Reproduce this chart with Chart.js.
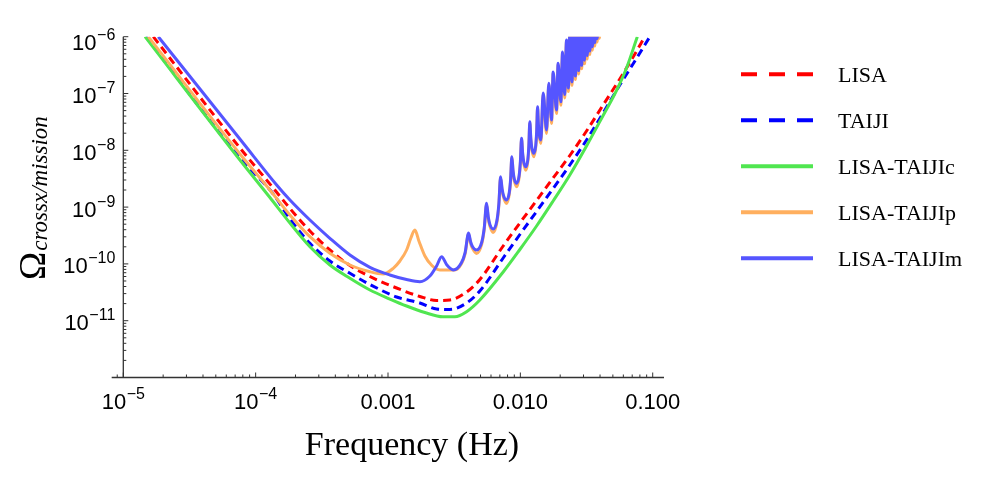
<!DOCTYPE html>
<html>
<head>
<meta charset="utf-8">
<script src="https://cdn.jsdelivr.net/npm/chart.js@4.4.1/dist/chart.umd.min.js"></script>
<style>
  html, body { margin: 0; padding: 0; background: #ffffff; }
  #wrap { width: 986px; height: 490px; }
</style>
</head>
<body>
<div id="wrap"><canvas id="chart" width="986" height="490"></canvas></div>
<script>
// ---------------- data (frequency in Hz, Omega values) ----------------
const lisaF = [1.685e-5, 7.61e-5, 1.358e-4, 1.816e-4, 2.571e-4, 3.640e-4, 5.156e-4, 7.30e-4, 1.161e-3, 1.741e-3, 2.329e-3, 2.935e-3, 3.924e-3, 4.943e-3, 7.416e-3, 9.913e-3, 1.326e-2, 1.769e-2, 2.365e-2, 3.162e-2, 4.220e-2, 5.641e-2, 7.11e-2, 8.72e-2];
const lisaV = [1.0e-6, 1.098e-8, 2.169e-9, 9.45e-10, 3.794e-10, 1.757e-10, 9.37e-11, 6.0e-11, 3.764e-11, 2.668e-11, 2.267e-11, 2.314e-11, 3.20e-11, 5.31e-11, 2.066e-10, 5.25e-10, 1.307e-9, 3.253e-9, 8.10e-9, 2.186e-8, 6.27e-8, 1.80e-7, 4.39e-7, 1.0e-6];

const taijiF = [1.484e-5, 7.61e-5, 1.358e-4, 1.816e-4, 2.571e-4, 3.640e-4, 5.156e-4, 7.30e-4, 1.161e-3, 1.741e-3, 2.329e-3, 2.935e-3, 3.924e-3, 4.943e-3, 7.416e-3, 9.913e-3, 1.326e-2, 1.769e-2, 2.365e-2, 3.162e-2, 4.220e-2, 5.641e-2, 7.54e-2, 9.51e-2];
const taijiV = [1.0e-6, 7.32e-9, 1.700e-9, 6.17e-10, 2.305e-10, 1.125e-10, 6.83e-11, 4.34e-11, 2.615e-11, 2.049e-11, 1.607e-11, 1.575e-11, 2.049e-11, 3.333e-11, 1.27e-10, 3.293e-10, 8.37e-10, 2.126e-9, 5.51e-9, 1.518e-8, 4.54e-8, 1.411e-7, 4.13e-7, 1.0e-6];

const cF = [1.459e-5, 7.61e-5, 1.282e-4, 1.816e-4, 2.571e-4, 3.640e-4, 5.156e-4, 7.30e-4, 1.033e-3, 1.382e-3, 1.900e-3, 2.599e-3, 3.200e-3, 3.924e-3, 4.943e-3, 7.416e-3, 9.913e-3, 1.326e-2, 1.769e-2, 2.365e-2, 3.162e-2, 4.220e-2, 5.328e-2, 6.340e-2, 7.65e-2];
const cV = [1.0e-6, 6.75e-9, 1.476e-9, 5.25e-10, 2.009e-10, 9.56e-11, 5.58e-11, 3.47e-11, 2.41e-11, 1.815e-11, 1.394e-11, 1.176e-11, 1.176e-11, 1.44e-11, 2.314e-11, 7.2e-11, 1.793e-10, 4.65e-10, 1.281e-9, 3.674e-9, 1.19e-8, 4.10e-8, 1.129e-7, 2.81e-7, 1.0e-6];

const pF = [1.544e-5, 7.61e-5, 1.282e-4, 1.816e-4, 2.571e-4, 3.640e-4, 5.156e-4, 7.30e-4, 9.20e-4, 1.095e-3, 1.230e-3, 1.382e-3, 1.489e-3, 1.596e-3, 1.712e-3, 1.900e-3, 2.146e-3, 2.466e-3, 3.200e-3, 3.586e-3, 3.824e-3, 4.063e-3,
  4.214e-3, 4.366e-3, 4.668e-3, 5.112e-3, 5.333e-3, 5.555e-3, 5.724e-3, 5.893e-3, 6.230e-3, 6.659e-3, 6.874e-3, 7.088e-3, 7.283e-3, 7.477e-3, 7.866e-3,
  8.246e-3, 8.435e-3, 8.625e-3, 8.809e-3, 8.993e-3, 9.361e-3, 9.786e-3, 9.998e-3, 1.021e-2, 1.041e-2, 1.061e-2, 1.100e-2, 1.140e-2, 1.159e-2, 1.179e-2, 1.200e-2, 1.222e-2, 1.264e-2,
  1.307e-2, 1.328e-2, 1.349e-2, 1.369e-2, 1.389e-2, 1.428e-2, 1.487e-2, 1.577e-2, 1.641e-2, 1.720e-2, 1.769e-2, 1.876e-2, 1.929e-2, 2.022e-2, 2.083e-2, 2.160e-2, 2.233e-2,
  2.305e-2, 2.380e-2, 2.455e-2, 2.530e-2, 2.605e-2, 2.680e-2, 2.755e-2, 2.830e-2, 2.905e-2, 2.980e-2, 3.055e-2, 3.130e-2, 3.205e-2, 3.280e-2, 3.355e-2, 3.430e-2, 3.505e-2, 3.580e-2, 3.655e-2, 3.730e-2, 3.805e-2, 3.880e-2, 3.955e-2, 4.030e-2, 4.105e-2];
const pV = [1.0e-6, 8.61e-9, 2.0e-9, 7.26e-10, 3.012e-10, 1.537e-10, 9.56e-11, 7.29e-11, 6.64e-11, 8.37e-11, 1.125e-10, 1.757e-10, 2.858e-10, 3.952e-10, 2.53e-10, 1.377e-10, 9.37e-11, 7.81e-11, 7.81e-11, 1.0e-10, 1.5e-10, 3.36e-10,
  2.26e-10, 1.84e-10, 1.53e-10, 2.26e-10, 3.98e-10, 1.11e-9, 6.24e-10, 4.57e-10, 3.58e-10, 5.49e-10, 1.036e-9, 3.26e-9, 1.934e-9, 1.457e-9, 1.16e-9,
  1.674e-9, 2.84e-9, 7.33e-9, 4.05e-9, 2.94e-9, 2.28e-9, 3.33e-9, 5.75e-9, 1.55e-8, 8.21e-9, 5.81e-9, 4.47e-9, 6.52e-9, 1.128e-8, 3.03e-8, 1.505e-8, 1.025e-8, 7.70e-9,
  1.136e-8, 2.0e-8, 5.57e-8, 2.66e-8, 1.776e-8, 1.32e-8, 9.70e-8, 1.98e-8, 1.44e-7, 2.97e-8, 2.27e-7, 4.45e-8, 3.23e-7, 6.24e-8, 5.11e-7, 8.35e-8, 8.31e-7,
  1.083e-7, 2.0e-6, 1.39e-7, 2.0e-6, 1.77e-7, 2.0e-6, 2.21e-7, 2.0e-6, 2.73e-7, 2.0e-6, 3.34e-7, 2.0e-6, 4.05e-7, 2.0e-6, 4.85e-7, 2.0e-6, 5.79e-7, 2.0e-6, 6.84e-7, 2.0e-6, 8.05e-7, 2.0e-6, 9.40e-7, 2.0e-6, 1.09e-6];

const mF = [1.838e-5, 8.06e-5, 1.441e-4, 1.816e-4, 2.571e-4, 3.640e-4, 5.156e-4, 7.30e-4, 1.033e-3, 1.382e-3, 1.741e-3, 2.073e-3, 2.329e-3, 2.540e-3, 2.785e-3, 3.108e-3, 3.586e-3, 3.824e-3, 4.063e-3,
  4.214e-3, 4.366e-3, 4.668e-3, 5.112e-3, 5.333e-3, 5.555e-3, 5.724e-3, 5.893e-3, 6.230e-3, 6.659e-3, 6.874e-3, 7.088e-3, 7.283e-3, 7.477e-3, 7.866e-3,
  8.246e-3, 8.435e-3, 8.625e-3, 8.809e-3, 8.993e-3, 9.361e-3, 9.786e-3, 9.998e-3, 1.021e-2, 1.041e-2, 1.061e-2, 1.100e-2, 1.140e-2, 1.159e-2, 1.179e-2, 1.200e-2, 1.222e-2, 1.264e-2,
  1.307e-2, 1.328e-2, 1.349e-2, 1.369e-2, 1.389e-2, 1.428e-2, 1.487e-2, 1.577e-2, 1.641e-2, 1.720e-2, 1.769e-2, 1.876e-2, 1.929e-2, 2.022e-2, 2.083e-2, 2.160e-2, 2.233e-2,
  2.305e-2, 2.380e-2, 2.455e-2, 2.530e-2, 2.605e-2, 2.680e-2, 2.755e-2, 2.830e-2, 2.905e-2, 2.980e-2, 3.055e-2, 3.130e-2, 3.205e-2, 3.280e-2, 3.355e-2, 3.430e-2, 3.505e-2, 3.580e-2, 3.655e-2, 3.730e-2, 3.805e-2, 3.880e-2, 3.955e-2, 4.030e-2];
const mV = [1.0e-6, 1.328e-8, 2.449e-9, 1.334e-9, 5.93e-10, 2.823e-10, 1.434e-10, 8.71e-11, 6.38e-11, 5.31e-11, 4.86e-11, 6.12e-11, 9.18e-11, 1.339e-10, 9.56e-11, 7.81e-11, 1.05e-10, 1.58e-10, 3.50e-10,
  2.43e-10, 1.98e-10, 1.757e-10, 2.43e-10, 4.28e-10, 1.166e-9, 6.71e-10, 4.91e-10, 4.115e-10, 5.90e-10, 1.114e-9, 3.43e-9, 2.08e-9, 1.567e-9, 1.334e-9,
  1.80e-9, 3.05e-9, 7.72e-9, 4.36e-9, 3.16e-9, 2.624e-9, 3.58e-9, 6.18e-9, 1.627e-8, 8.83e-9, 6.25e-9, 5.14e-9, 7.01e-9, 1.213e-8, 3.19e-8, 1.618e-8, 1.102e-8, 8.85e-9,
  1.222e-8, 2.153e-8, 5.86e-8, 2.864e-8, 1.91e-8, 1.518e-8, 1.021e-7, 2.277e-8, 1.512e-7, 3.416e-8, 2.39e-7, 5.12e-8, 3.40e-7, 7.17e-8, 5.38e-7, 9.6e-8, 8.75e-7,
  1.245e-7, 2.0e-6, 1.60e-7, 2.0e-6, 2.03e-7, 2.0e-6, 2.54e-7, 2.0e-6, 3.14e-7, 2.0e-6, 3.84e-7, 2.0e-6, 4.65e-7, 2.0e-6, 5.58e-7, 2.0e-6, 6.65e-7, 2.0e-6, 7.86e-7, 2.0e-6, 9.25e-7, 2.0e-6, 1.08e-6, 2.0e-6];

const seriesLabels = ['LISA', 'TAIJI', 'LISA-TAIJIc', 'LISA-TAIJIp', 'LISA-TAIJIm'];

// tick labels
const xTickValues = [1e-5, 1e-4, 1e-3, 1e-2, 1e-1];
const xTickLabels = ['10^\u22125', '10^\u22124', '0.001', '0.010', '0.100'];
const yTickValues = [1e-6, 1e-7, 1e-8, 1e-9, 1e-10, 1e-11];
const yTickLabels = ['10^\u22126', '10^\u22127', '10^\u22128', '10^\u22129', '10^\u221210', '10^\u221211'];

const xTitle = 'Frequency (Hz)';
const yTitleMain = '\u03A9';
const yTitleSub = 'crossx/mission';

// ---------------- styling / layout ----------------
const X_MIN = 1e-5, X_MAX = 0.1217, Y_MIN = 1e-12, Y_MAX = 1e-6;
const X_AXIS_START = 8.17e-6;
const AXIS_COLOR = '#333333';
const TICK_FONT = '22px "Liberation Sans", Arial, sans-serif';
const SUP_FONT = '16px "Liberation Sans", Arial, sans-serif';

const styles = [
  { color: '#ff0000', dash: [8, 5], order: 5 },
  { color: '#0000ff', dash: [8, 5], order: 4 },
  { color: '#50e650', dash: [], order: 3 },
  { color: '#ffaf5f', dash: [], order: 2 },
  { color: '#5555ff', dash: [], order: 1 }
];
const seriesData = [[lisaF, lisaV], [taijiF, taijiV], [cF, cV], [pF, pV], [mF, mV]];

const toPoints = (f, v) => f.map((x, i) => ({ x: x, y: v[i] }));

const axesPlugin = {
  id: 'mathematicaAxes',
  afterDraw(chart) {
    const ctx = chart.ctx;
    const a = chart.chartArea;
    const xs = chart.scales.x, ys = chart.scales.y;
    const ax = xs.getPixelForValue(X_MIN);
    const ay = ys.getPixelForValue(Y_MIN);
    const seg = (x1, y1, x2, y2) => { ctx.beginPath(); ctx.moveTo(x1, y1); ctx.lineTo(x2, y2); ctx.stroke(); };
    ctx.save();
    ctx.setLineDash([]);
    ctx.strokeStyle = AXIS_COLOR;
    ctx.lineWidth = 1.3;
    seg(xs.getPixelForValue(X_AXIS_START), ay, a.right, ay);
    seg(ax, ys.getPixelForValue(Y_MAX), ax, ay);
    ctx.lineWidth = 1;
    for (let e = -6; e <= -1; e++) {
      for (let k = 1; k <= 9; k++) {
        const v = k * Math.pow(10, e);
        if (v < X_AXIS_START || v > X_MAX) continue;
        const p = xs.getPixelForValue(v);
        seg(p, ay, p, ay - (k === 1 ? 5 : 3));
      }
    }
    for (let e = -12; e <= -6; e++) {
      for (let k = 1; k <= 9; k++) {
        const v = k * Math.pow(10, e);
        if (v > Y_MAX * 1.0001) continue;
        const p = ys.getPixelForValue(v);
        seg(ax, p, ax + (k === 1 ? 5 : 3), p);
      }
    }
    // tick labels
    ctx.fillStyle = '#000000';
    ctx.textBaseline = 'alphabetic';
    ctx.textAlign = 'left';
    const drawLabel = (label, x, yBase, align) => {
      const parts = label.split('^');
      ctx.font = TICK_FONT;
      const wb = ctx.measureText(parts[0]).width;
      let we = 0;
      if (parts[1]) { ctx.font = SUP_FONT; we = ctx.measureText(parts[1]).width + 0.5; }
      const x0 = align === 'center' ? x - (wb + we) / 2 : x - (wb + we);
      ctx.font = TICK_FONT;
      ctx.fillText(parts[0], x0, yBase);
      if (parts[1]) { ctx.font = SUP_FONT; ctx.fillText(parts[1], x0 + wb + 0.5, yBase - 10); }
    };
    xTickValues.forEach((v, i) => drawLabel(xTickLabels[i], xs.getPixelForValue(v), ay + 31, 'center'));
    yTickValues.forEach((v, i) => {
      const p = ys.getPixelForValue(v);
      drawLabel(yTickLabels[i], ax - 8, Math.max(p + 9.5, a.top + 13.3), 'right');
    });
    // axis titles
    ctx.font = '34px "Liberation Serif", "Times New Roman", serif';
    ctx.textAlign = 'center';
    ctx.fillText(xTitle, 412, 455);
    ctx.save();
    ctx.translate(45, 280);
    ctx.rotate(-Math.PI / 2);
    ctx.textAlign = 'left';
    ctx.font = '38px "Liberation Serif", "Times New Roman", serif';
    ctx.fillText(yTitleMain, 0, 0);
    const wo = ctx.measureText(yTitleMain).width;
    ctx.font = 'italic 23px "Liberation Serif", "Times New Roman", serif';
    ctx.fillText(yTitleSub, wo + 1, 2);
    ctx.restore();
    // legend
    const LEG_X1 = 741, LEG_X2 = 813, LEG_TEXT_X = 838, LEG_TOP = 74.3, LEG_STEP = 46;
    chart.data.datasets.forEach((ds, i) => {
      const yy = LEG_TOP + i * LEG_STEP;
      ctx.strokeStyle = ds.borderColor;
      ctx.lineWidth = 4;
      ctx.setLineDash(ds.borderDash && ds.borderDash.length ? [16, 12] : []);
      seg(LEG_X1, yy, LEG_X2, yy);
      ctx.setLineDash([]);
      ctx.fillStyle = '#000000';
      ctx.font = '22px "Liberation Serif", "Times New Roman", serif';
      ctx.textAlign = 'left';
      ctx.fillText(ds.label, LEG_TEXT_X, yy + 8);
    });
    ctx.restore();
  }
};

new Chart(document.getElementById('chart').getContext('2d'), {
  type: 'line',
  data: {
    datasets: seriesLabels.map((label, i) => ({
      label: label,
      data: toPoints(seriesData[i][0], seriesData[i][1]),
      borderColor: styles[i].color,
      backgroundColor: styles[i].color,
      borderWidth: 3,
      borderDash: styles[i].dash,
      borderJoinStyle: 'round',
      borderCapStyle: 'butt',
      pointRadius: 0,
      pointHoverRadius: 0,
      fill: false,
      cubicInterpolationMode: 'monotone',
      order: styles[i].order,
      clip: 0
    }))
  },
  options: {
    responsive: false,
    animation: false,
    events: [],
    layout: { padding: { left: 123.3, right: 322, top: 36.7, bottom: 112.5 } },
    scales: {
      x: { type: 'logarithmic', min: X_MIN, max: X_MAX, display: false },
      y: { type: 'logarithmic', min: Y_MIN, max: Y_MAX, display: false }
    },
    plugins: { legend: { display: false }, tooltip: { enabled: false } }
  },
  plugins: [axesPlugin]
});
</script>
</body>
</html>
